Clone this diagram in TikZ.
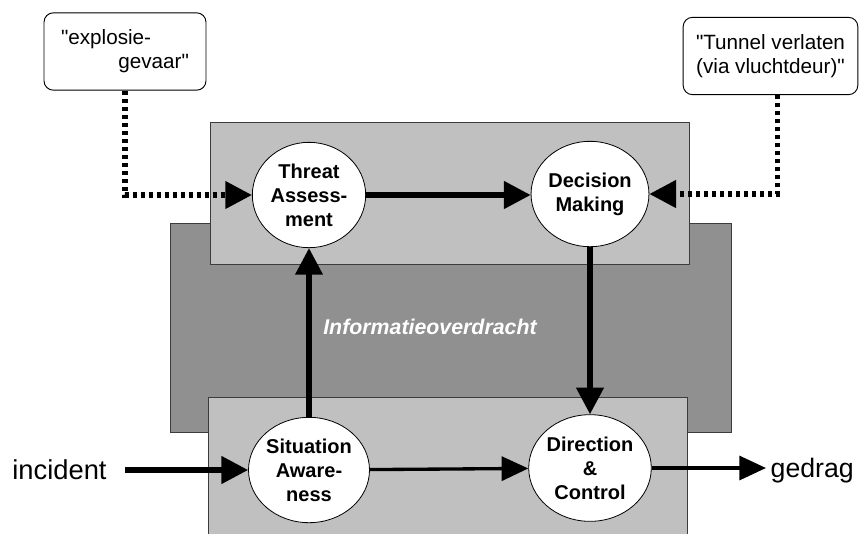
\documentclass[tikz,border=0pt]{standalone}
\usepackage{fontspec}
\setmainfont{Liberation Sans}
\usetikzlibrary{calc,shapes.geometric,arrows.meta}
\definecolor{lightgrey}{RGB}{192,192,192}
\definecolor{darkgrey}{RGB}{144,144,144}
\definecolor{edgegrey}{RGB}{60,60,60}

\begin{document}
\begin{tikzpicture}[x=0.75pt,y=-0.75pt]
\tikzstyle{process node}=[ellipse,draw=black,line width=0.6pt,fill=white,minimum width=85pt,minimum height=79pt,inner sep=0pt,align=center,font=\fontsize{15}{18}\selectfont\bfseries]
\tikzstyle{note node}=[draw=black,line width=0.7pt,rounded corners=7pt,fill=white,minimum height=58pt,font=\fontsize{15.5}{18}\selectfont]
\tikzstyle{flow}=[line width=4pt,-{Triangle[length=20pt,width=20pt]}]
\tikzstyle{thin flow}=[line width=2.5pt,-{Triangle[length=20pt,width=18pt]}]
\tikzstyle{hint}=[line width=4pt,dash pattern=on 3pt off 3pt,-{Triangle[length=20pt,width=20pt]}]

\useasboundingbox (0,0) rectangle (862,533);

% informatieoverdracht layer
\draw[fill=darkgrey,draw=edgegrey,line width=0.75pt] (170,223) rectangle (731,432);
% upper level
\draw[fill=lightgrey,draw=edgegrey,line width=0.75pt] (210,122) rectangle (689,264);
% lower level, runs off the page
\fill[lightgrey] (208,397) rectangle (687,534);
\draw[edgegrey,line width=0.75pt] (208,534) -- (208,397) -- (687,397) -- (687,534);

\node(info)[text=white,font=\fontsize{16}{19}\selectfont\bfseries\itshape] at (430,327) {Informatieoverdracht};

\node(ta)[process node] at (309,195) {Threat\\Assess-\\ment};
\node(dm)[process node] at (590,194) {Decision\\Making};
\node(sa)[process node] at (309,470) {Situation\\Aware-\\ness};
\node(dc)[process node,minimum width=86pt,minimum height=80pt] at (590,468) {Direction\\\&\\Control};

% cues from outside
\node(expl)[note node,minimum width=121.5pt,align=left] at (125,51.5) {\textquotedbl explosie-\\\hspace*{43pt}gevaar\textquotedbl};
\node(tun)[note node,minimum width=131pt,align=center] at (770.5,56) {\textquotedbl Tunnel verlaten\\(via vluchtdeur)\textquotedbl};
\coordinate(tunout) at ($(tun.south)+(7,0)$);

\node(inc)[font=\fontsize{20.5}{24}\selectfont] at (59.5,470) {incident};
\node(out)[anchor=base west,font=\fontsize{20}{24}\selectfont] at (766,477) {gedrag};

% flows
\draw[flow,shorten <=10.5pt] (inc) -- (sa);
\draw[flow] (sa) -- (ta);
\draw[flow] (ta.east) -- (dm.west |- ta.east);
\draw[flow] (dm) -- (dc);
\draw[thin flow] (sa) -- (dc);
\draw[thin flow] (dc.east) -- (out.west |- dc.east);

% dotted hints
\draw[hint] (expl.south) |- (ta.west);
\draw[hint] (tunout) |- (dm.east);

\end{tikzpicture}
\end{document}
